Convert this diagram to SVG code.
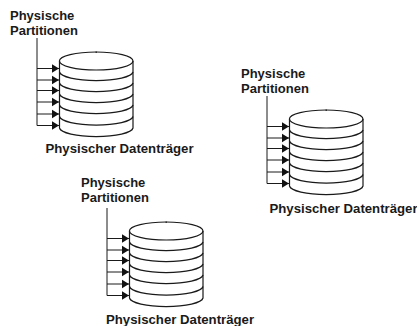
<svg xmlns="http://www.w3.org/2000/svg" width="417" height="326" viewBox="0 0 417 326">
<style>
.d{fill:none;stroke:#1a1a1a;stroke-width:1.2}
.c{fill:none;stroke:#1a1a1a;stroke-width:1}
text{font-family:"Liberation Sans",Arial,sans-serif;font-weight:700;font-size:13px;fill:#1a1a1a}
.w{font-size:13.2px}
</style>
<defs>
<marker id="a" markerUnits="userSpaceOnUse" markerWidth="8" markerHeight="10" refX="7.5" refY="5" orient="auto"><path d="M0,0.5L7.5,5L0,9.5Z" fill="#111"/></marker>
<g id="disk">
<rect x="59.5" y="61" width="73.5" height="67" fill="#fff" stroke="none"/>
<ellipse class="d" cx="96.2" cy="61" rx="36.8" ry="9"/>
<path class="d" d="M59.5,61V128A36.8,9 0 0 0 133,128V61"/>
<path class="d" d="M59.5,72A36.8,9 0 0 0 133,72M59.5,83A36.8,9 0 0 0 133,83M59.5,94A36.8,9 0 0 0 133,94M59.5,105A36.8,9 0 0 0 133,105M59.5,116.500A36.8,9 0 0 0 133,116.500"/>
<path class="d" d="M96.200,51.500V53"/>
</g>
<g id="conn">
<path class="c" d="M37,38V125.500"/>
<path class="c" marker-end="url(#a)" d="M37,68.500H59"/>
<path class="c" marker-end="url(#a)" d="M37,80H59"/>
<path class="c" marker-end="url(#a)" d="M37,90.500H59"/>
<path class="c" marker-end="url(#a)" d="M37,102H59"/>
<path class="c" marker-end="url(#a)" d="M37,114H59"/>
<path class="c" marker-end="url(#a)" d="M37,125.500H59"/>
</g>
</defs>
<g id="connectors">
<use href="#conn"/>
<use href="#conn" transform="translate(230,58)"/>
<use href="#conn" transform="translate(70,170)"/>
</g>
<g id="node-1">
<use href="#disk"/>
<text x="10" y="20">Physische</text>
<text x="10" y="34.500">Partitionen</text>
<text class="w" x="45.500" y="152.500">Physischer Datenträger</text>
</g>
<g id="node-2">
<use href="#disk" transform="translate(230,58)"/>
<text x="241" y="78">Physische</text>
<text x="241" y="92.500">Partitionen</text>
<text class="w" x="269.500" y="213">Physischer Datenträger</text>
</g>
<g id="node-3">
<use href="#disk" transform="translate(70,170)"/>
<text x="81" y="186.500">Physische</text>
<text x="81" y="201.500">Partitionen</text>
<text class="w" x="106" y="323.500">Physischer Datenträger</text>
</g>
</svg>
